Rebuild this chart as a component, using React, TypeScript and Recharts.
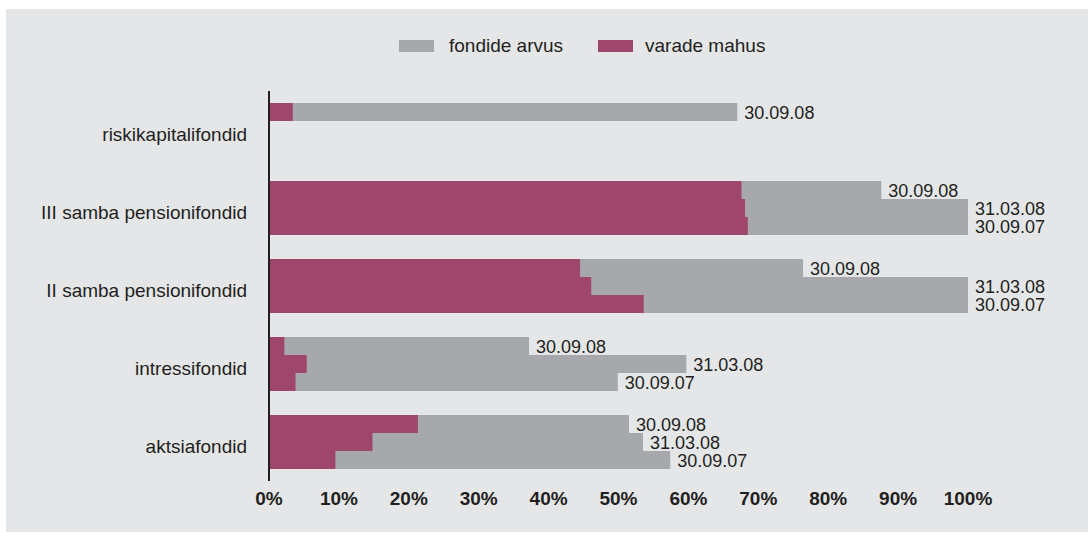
import { BarChart, Bar, XAxis, YAxis, Legend, LabelList } from "recharts";

const categories = [
  "riskikapitalifondid",
  "III samba pensionifondid",
  "II samba pensionifondid",
  "intressifondid",
  "aktsiafondid",
];

const dates = ["30.09.08", "31.03.08", "30.09.07"];

// fondide arvus (%)
const count0809 = [67.0, 87.6, 76.4, 37.2, 51.5];
const count0803 = [null, 100, 100, 59.7, 53.5];
const count0709 = [null, 100, 100, 49.9, 57.4];

// varade mahus (%)
const assets0809 = [3.4, 67.6, 44.5, 2.2, 21.3];
const assets0803 = [null, 68.1, 46.1, 5.4, 14.8];
const assets0709 = [null, 68.5, 53.6, 3.8, 9.5];

const xTicks = [0, 10, 20, 30, 40, 50, 60, 70, 80, 90, 100];

const GREY = "#a7a8ab";
const CRIMSON = "#9e466b";
const TEXT = "#231f20";
const FONT = "'Liberation Sans', Arial, Helvetica, sans-serif";

const data = categories.map((name, i) => ({
  name,
  c0: count0809[i],
  c1: count0803[i],
  c2: count0709[i],
  a0: assets0809[i],
  a1: assets0803[i],
  a2: assets0709[i],
}));

const dateLabel = (text: string) => (props: any) => {
  const { x, y, width, height, value } = props;
  if (value == null) return null;
  return (
    <text
      x={Number(x) + Number(width) + 7}
      y={Number(y) + Number(height) / 2 + 1}
      dominantBaseline="central"
      fontSize={18}
      fill={TEXT}
      fontFamily={FONT}
    >
      {text}
    </text>
  );
};

const CategoryTick = (props: any) => {
  const { x, y, payload } = props;
  return (
    <text
      x={x}
      y={y + 4}
      textAnchor="end"
      dominantBaseline="central"
      fontSize={19}
      fill={TEXT}
      fontFamily={FONT}
    >
      {payload.value}
    </text>
  );
};

const LegendBox = () => (
  <div style={{ position: "relative", height: 55, fontFamily: FONT, fontSize: 19, color: TEXT }}>
    <span style={{ position: "absolute", left: 393, top: 4, width: 35, height: 12, background: GREY }} />
    <span style={{ position: "absolute", left: 443, top: -1, lineHeight: "22px" }}>fondide arvus</span>
    <span style={{ position: "absolute", left: 592, top: 4, width: 35, height: 12, background: CRIMSON }} />
    <span style={{ position: "absolute", left: 639, top: -1, lineHeight: "22px" }}>varade mahus</span>
  </div>
);

export default function App() {
  return (
    <div
      style={{
        position: "absolute",
        left: 6,
        top: 9,
        width: 1082,
        height: 523,
        background: "#e5e6e8",
      }}
    >
      <BarChart
        width={1082}
        height={523}
        data={data}
        layout="vertical"
        barSize={18}
        barGap={0}
        margin={{ top: 27, right: 120, bottom: 21, left: 0 }}
      >
        <Legend
          verticalAlign="top"
          content={() => <LegendBox />}
          wrapperStyle={{ left: 0, top: 27, width: 1082 }}
        />
        <XAxis
          type="number"
          domain={[0, 100]}
          ticks={xTicks}
          tickFormatter={(v) => `${v}%`}
          axisLine={false}
          tickLine={false}
          tickSize={0}
          tickMargin={11}
          height={30}
          interval={0}
          tick={{ fontSize: 19, fontWeight: "bold", fill: TEXT, fontFamily: FONT }}
        />
        <YAxis
          yAxisId="a"
          type="category"
          dataKey="name"
          width={263}
          tickSize={0}
          tickMargin={22}
          axisLine={{ stroke: "#231f20", strokeWidth: 2 }}
          tickLine={false}
          tick={<CategoryTick />}
        />
        <YAxis yAxisId="b" type="category" dataKey="name" hide />

        <Bar yAxisId="a" dataKey="c0" fill={GREY} isAnimationActive={false}>
          <LabelList dataKey="c0" content={dateLabel(dates[0])} />
        </Bar>
        <Bar yAxisId="a" dataKey="c1" fill={GREY} isAnimationActive={false}>
          <LabelList dataKey="c1" content={dateLabel(dates[1])} />
        </Bar>
        <Bar yAxisId="a" dataKey="c2" fill={GREY} isAnimationActive={false}>
          <LabelList dataKey="c2" content={dateLabel(dates[2])} />
        </Bar>

        <Bar yAxisId="b" dataKey="a0" fill={CRIMSON} isAnimationActive={false} />
        <Bar yAxisId="b" dataKey="a1" fill={CRIMSON} isAnimationActive={false} />
        <Bar yAxisId="b" dataKey="a2" fill={CRIMSON} isAnimationActive={false} />
      </BarChart>
    </div>
  );
}
